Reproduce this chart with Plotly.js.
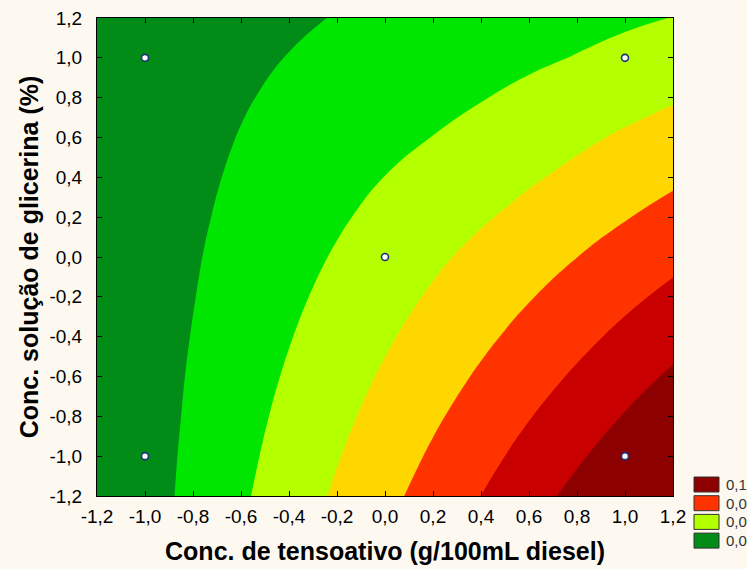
<!DOCTYPE html>
<html>
<head>
<meta charset="utf-8">
<script src="https://cdn.plot.ly/plotly-3.0.1.min.js"></script>
<style>
  html, body { margin: 0; padding: 0; background: #FDF9F0; }
  #chart { width: 747px; height: 569px; }
</style>
</head>
<body>
<div id="chart"></div>
<script>
// Grid coordinates (coded factor levels)
const gridX = [-1.2, -1.0, -0.8, -0.6, -0.4, -0.2, 0.0, 0.2, 0.4, 0.6, 0.8, 1.0, 1.2];
const gridY = [-1.2, -1.0, -0.8, -0.6, -0.4, -0.2, 0.0, 0.2, 0.4, 0.6, 0.8, 1.0, 1.2];

// Response surface values (rows follow gridY, columns follow gridX)
const zRowM12 = [-0.0002, 0.0123, 0.0248, 0.0374, 0.0499, 0.0625, 0.0750, 0.0875, 0.1001, 0.1126, 0.1252, 0.1377, 0.1502];
const zRowM10 = [0.0003, 0.0121, 0.0238, 0.0355, 0.0472, 0.0590, 0.0707, 0.0824, 0.0942, 0.1059, 0.1176, 0.1294, 0.1411];
const zRowM08 = [0.0009, 0.0118, 0.0227, 0.0336, 0.0446, 0.0555, 0.0664, 0.0773, 0.0882, 0.0992, 0.1101, 0.1210, 0.1319];
const zRowM06 = [0.0014, 0.0116, 0.0217, 0.0318, 0.0419, 0.0520, 0.0621, 0.0722, 0.0823, 0.0924, 0.1025, 0.1127, 0.1228];
const zRowM04 = [0.0020, 0.0113, 0.0206, 0.0299, 0.0392, 0.0485, 0.0578, 0.0671, 0.0764, 0.0857, 0.0950, 0.1043, 0.1136];
const zRowM02 = [0.0026, 0.0111, 0.0195, 0.0280, 0.0365, 0.0450, 0.0535, 0.0620, 0.0705, 0.0790, 0.0875, 0.0960, 0.1044];
const zRow00  = [0.0031, 0.0108, 0.0185, 0.0262, 0.0338, 0.0415, 0.0492, 0.0569, 0.0646, 0.0722, 0.0799, 0.0876, 0.0953];
const zRowP02 = [0.0037, 0.0106, 0.0174, 0.0243, 0.0312, 0.0379, 0.0447, 0.0514, 0.0581, 0.0650, 0.0720, 0.0791, 0.0861];
const zRowP04 = [0.0042, 0.0103, 0.0164, 0.0224, 0.0285, 0.0344, 0.0402, 0.0460, 0.0518, 0.0579, 0.0641, 0.0705, 0.0769];
const zRowP06 = [0.0048, 0.0101, 0.0153, 0.0206, 0.0258, 0.0308, 0.0355, 0.0403, 0.0455, 0.0510, 0.0566, 0.0623, 0.0678];
const zRowP08 = [0.0054, 0.0098, 0.0142, 0.0187, 0.0231, 0.0273, 0.0313, 0.0350, 0.0393, 0.0438, 0.0485, 0.0533, 0.0583];
const zRowP10 = [0.0059, 0.0096, 0.0132, 0.0168, 0.0204, 0.0239, 0.0273, 0.0305, 0.0338, 0.0372, 0.0407, 0.0446, 0.0487];
const zRowP12 = [0.0065, 0.0093, 0.0121, 0.0149, 0.0178, 0.0206, 0.0234, 0.0262, 0.0290, 0.0319, 0.0347, 0.0375, 0.0403];

// Design (experimental) points
const pointsX = [-1, -1, 0, 1, 1];
const pointsY = [-1, 1, 0, 1, -1];

// Contour levels and band colours (lowest to highest)
const levelStart = 0.02;
const levelEnd = 0.12;
const levelStep = 0.02;
const bandColors = ['#008C16', '#00E600', '#B4FF00', '#FFD700', '#FF3300', '#C80000', '#8C0000'];

// Tick labels
const tickValues = [-1.2, -1.0, -0.8, -0.6, -0.4, -0.2, 0.0, 0.2, 0.4, 0.6, 0.8, 1.0, 1.2];
const tickLabels = ['-1,2', '-1,0', '-0,8', '-0,6', '-0,4', '-0,2', '0,0', '0,2', '0,4', '0,6', '0,8', '1,0', '1,2'];

// Legend (as shown, truncated at the picture edge)
const legendColors = ['#8C0000', '#FF3300', '#B4FF00', '#008C16'];
const legendLabels = ['0,1', '0,0', '0,0', '0,0'];

const zGrid = [zRowM12, zRowM10, zRowM08, zRowM06, zRowM04, zRowM02, zRow00,
               zRowP02, zRowP04, zRowP06, zRowP08, zRowP10, zRowP12];

// stepped colour scale so every band gets exactly its colour
const nb = bandColors.length;
const colorscale = [];
bandColors.forEach((c, i) => {
  colorscale.push([i / nb, c]);
  colorscale.push([(i + 1) / nb, c]);
});

const FONT = 'Liberation Sans, Arial, Helvetica, sans-serif';

const contour = {
  type: 'contour',
  x: gridX,
  y: gridY,
  z: zGrid,
  colorscale: colorscale,
  autocontour: false,
  contours: { start: levelStart, end: levelEnd, size: levelStep, coloring: 'fill', showlines: false },
  line: { width: 0, smoothing: 1.3 },
  showscale: false,
  hoverinfo: 'skip'
};

const points = {
  type: 'scatter',
  mode: 'markers',
  x: pointsX,
  y: pointsY,
  marker: { symbol: 'circle', size: 7, color: '#FFFFFF', line: { color: '#1C3275', width: 1.6 } },
  showlegend: false,
  hoverinfo: 'skip'
};

// plot area geometry in pixels
const W = 747, H = 569;
const M = { l: 97, r: 74, t: 18, b: 73 };
const PW = W - M.l - M.r, PH = H - M.t - M.b;
const px2x = p => (p - M.l) / PW;
const py2y = p => (H - M.b - p) / PH;

const shapes = [];
const annotations = [];
legendColors.forEach((c, i) => {
  const top = 477 + i * 18.7;
  shapes.push({
    type: 'rect', xref: 'paper', yref: 'paper',
    x0: px2x(694), x1: px2x(719), y0: py2y(top + 15), y1: py2y(top),
    fillcolor: c, line: { color: '#333333', width: 1 }
  });
  annotations.push({
    xref: 'paper', yref: 'paper', x: px2x(724), y: py2y(top + 7.5),
    xanchor: 'left', yanchor: 'middle', showarrow: false,
    text: legendLabels[i], font: { family: FONT, size: 15, color: '#333333' }
  });
});

const axisCommon = {
  range: [-1.2, 1.2],
  tickmode: 'array',
  tickvals: tickValues,
  ticktext: tickLabels,
  ticks: 'inside',
  ticklen: 5,
  tickwidth: 1,
  tickcolor: '#000000',
  showline: true,
  linecolor: '#000000',
  linewidth: 1,
  mirror: 'ticks',
  showgrid: false,
  zeroline: false,
  fixedrange: true,
  tickfont: { family: FONT, size: 19, color: '#000000' }
};

const layout = {
  width: W,
  height: H,
  margin: M,
  paper_bgcolor: '#FDF9F0',
  plot_bgcolor: '#FDF9F0',
  showlegend: false,
  xaxis: Object.assign({}, axisCommon, {
    ticklabelstandoff: 3,
    title: { text: '<b>Conc. de tensoativo (g/100mL diesel)</b>', font: { family: FONT, size: 25, color: '#000000' }, standoff: 16 },
    automargin: false
  }),
  yaxis: Object.assign({}, axisCommon, {
    ticklabelstandoff: 10,
    title: { text: '<b>Conc. solução de glicerina (%)</b>', font: { family: FONT, size: 25, color: '#000000' }, standoff: 3 },
    automargin: false
  }),
  shapes: shapes,
  annotations: annotations
};

Plotly.newPlot('chart', [contour, points], layout, { displayModeBar: false, staticPlot: true });
</script>
</body>
</html>
